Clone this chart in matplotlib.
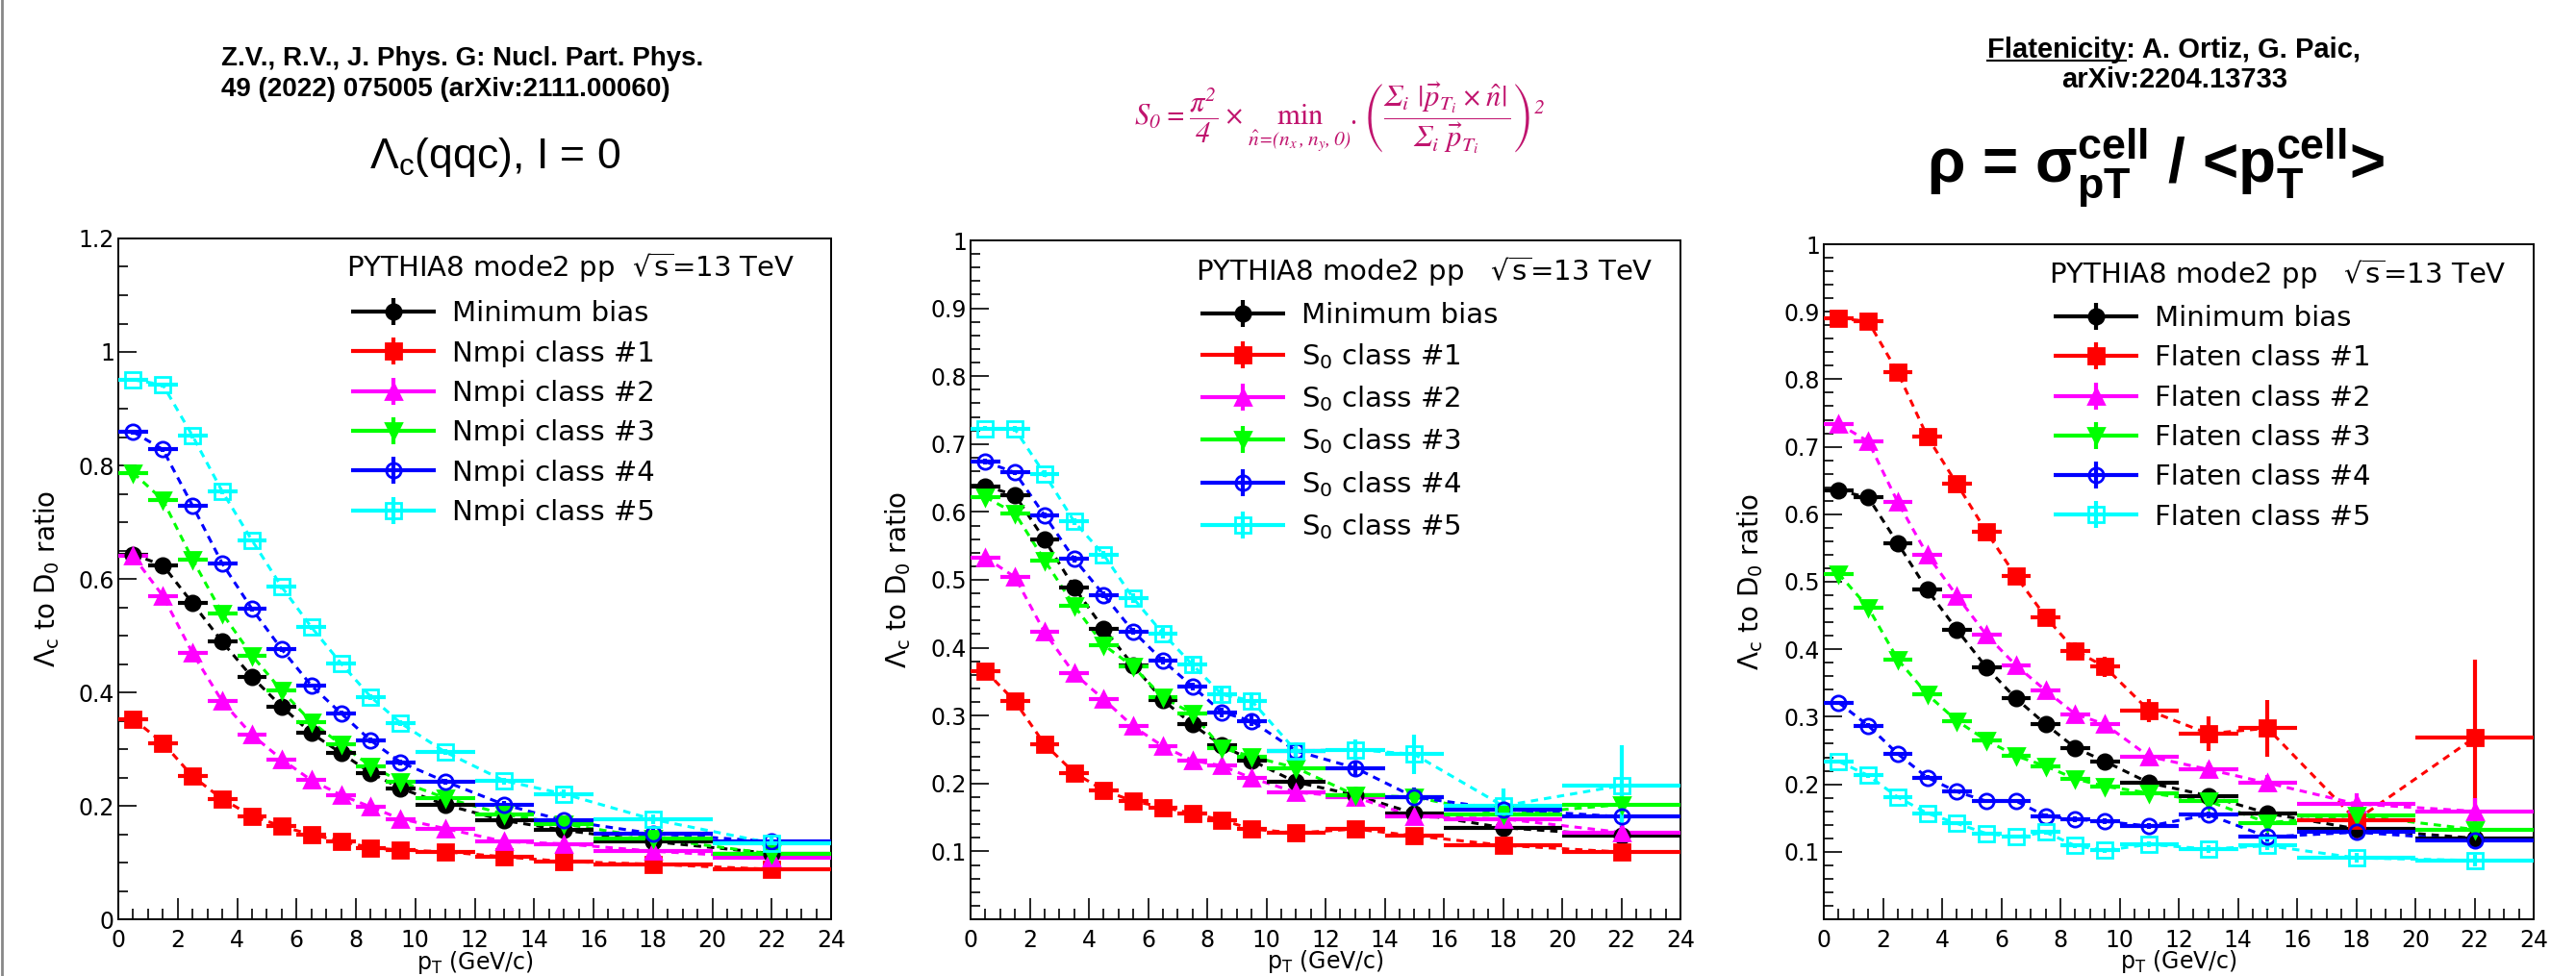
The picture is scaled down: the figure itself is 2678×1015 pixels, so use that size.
import numpy as np
import matplotlib.pyplot as plt
from matplotlib.ticker import MultipleLocator, FuncFormatter
from matplotlib.lines import Line2D
from matplotlib.container import ErrorbarContainer
from matplotlib.legend_handler import HandlerErrorbar

plt.rcParams["font.family"] = ["DejaVu Sans"]
plt.rcParams["mathtext.fontset"] = "dejavusans"
plt.rcParams["mathtext.default"] = "regular"
HEAD_FONT = ["Liberation Sans", "DejaVu Sans"]

# pT bins (GeV/c)
pt_edges = [0, 1, 2, 3, 4, 5, 6, 7, 8, 9, 10, 12, 14, 16, 20, 24]

# ---- Nmpi classes
nmpi_mb = [0.643, 0.624, 0.557, 0.489, 0.427, 0.375, 0.328, 0.293, 0.258, 0.231, 0.202, 0.174, 0.157, 0.137, 0.116]
nmpi_c1 = [0.353, 0.311, 0.252, 0.212, 0.182, 0.164, 0.149, 0.138, 0.126, 0.122, 0.119, 0.110, 0.102, 0.097, 0.088]
nmpi_c2 = [0.640, 0.570, 0.469, 0.384, 0.325, 0.282, 0.245, 0.219, 0.198, 0.177, 0.160, 0.137, 0.133, 0.120, 0.108]
nmpi_c3 = [0.787, 0.739, 0.634, 0.539, 0.465, 0.403, 0.348, 0.308, 0.270, 0.243, 0.214, 0.185, 0.168, 0.143, 0.115]
nmpi_c4 = [0.859, 0.828, 0.729, 0.627, 0.547, 0.476, 0.412, 0.363, 0.315, 0.277, 0.243, 0.202, 0.174, 0.151, 0.137]
nmpi_c5 = [0.951, 0.942, 0.852, 0.754, 0.668, 0.586, 0.515, 0.451, 0.392, 0.346, 0.295, 0.244, 0.221, 0.176, 0.134]
nmpi_err_mb = [0.003, 0.003, 0.003, 0.003, 0.003, 0.003, 0.003, 0.003, 0.003, 0.003, 0.003, 0.004, 0.005, 0.006, 0.008]
nmpi_err_cl = [0.004, 0.004, 0.004, 0.004, 0.004, 0.004, 0.004, 0.004, 0.005, 0.005, 0.005, 0.006, 0.007, 0.008, 0.010]

# ---- S0 classes
s0_mb = [0.638, 0.625, 0.559, 0.489, 0.428, 0.374, 0.323, 0.287, 0.256, 0.234, 0.202, 0.183, 0.156, 0.135, 0.123]
s0_c1 = [0.366, 0.321, 0.258, 0.216, 0.190, 0.174, 0.165, 0.156, 0.146, 0.133, 0.127, 0.133, 0.123, 0.109, 0.099]
s0_c2 = [0.533, 0.504, 0.423, 0.362, 0.324, 0.284, 0.255, 0.234, 0.226, 0.208, 0.187, 0.180, 0.151, 0.148, 0.128]
s0_c3 = [0.622, 0.598, 0.529, 0.462, 0.404, 0.372, 0.327, 0.303, 0.252, 0.240, 0.223, 0.183, 0.180, 0.154, 0.169]
s0_c4 = [0.674, 0.658, 0.595, 0.531, 0.478, 0.424, 0.381, 0.343, 0.305, 0.292, 0.248, 0.223, 0.180, 0.162, 0.151]
s0_c5 = [0.723, 0.722, 0.656, 0.586, 0.537, 0.473, 0.421, 0.375, 0.331, 0.322, 0.248, 0.250, 0.243, 0.167, 0.197]
s0_err_mb = [0.003, 0.003, 0.003, 0.003, 0.003, 0.003, 0.003, 0.003, 0.003, 0.003, 0.003, 0.004, 0.005, 0.006, 0.008]
s0_err_c1 = [0.004, 0.004, 0.004, 0.004, 0.004, 0.004, 0.004, 0.005, 0.005, 0.005, 0.005, 0.006, 0.007, 0.008, 0.010]
s0_err_c2 = [0.004, 0.004, 0.004, 0.004, 0.004, 0.005, 0.005, 0.005, 0.006, 0.006, 0.007, 0.008, 0.010, 0.010, 0.012]
s0_err_c3 = [0.004, 0.004, 0.004, 0.004, 0.005, 0.005, 0.005, 0.006, 0.006, 0.007, 0.008, 0.009, 0.012, 0.014, 0.025]
s0_err_c4 = [0.004, 0.004, 0.004, 0.005, 0.005, 0.005, 0.006, 0.006, 0.007, 0.008, 0.009, 0.010, 0.014, 0.016, 0.020]
s0_err_c5 = [0.004, 0.004, 0.005, 0.005, 0.006, 0.007, 0.008, 0.009, 0.010, 0.012, 0.010, 0.015, 0.029, 0.026, 0.059]

# ---- Flatenicity classes
fl_mb = [0.635, 0.625, 0.557, 0.488, 0.429, 0.373, 0.327, 0.289, 0.254, 0.234, 0.202, 0.183, 0.157, 0.134, 0.120]
fl_c1 = [0.890, 0.886, 0.810, 0.715, 0.645, 0.574, 0.508, 0.448, 0.398, 0.374, 0.309, 0.275, 0.283, 0.147, 0.269]
fl_c2 = [0.734, 0.708, 0.618, 0.540, 0.479, 0.421, 0.376, 0.339, 0.304, 0.289, 0.241, 0.222, 0.202, 0.171, 0.160]
fl_c3 = [0.512, 0.462, 0.385, 0.333, 0.294, 0.265, 0.242, 0.227, 0.208, 0.197, 0.187, 0.175, 0.143, 0.154, 0.133]
fl_c4 = [0.321, 0.287, 0.245, 0.210, 0.189, 0.175, 0.175, 0.153, 0.148, 0.145, 0.138, 0.155, 0.122, 0.129, 0.117]
fl_c5 = [0.234, 0.213, 0.181, 0.157, 0.142, 0.127, 0.122, 0.129, 0.109, 0.102, 0.111, 0.104, 0.109, 0.091, 0.087]
fl_err_mb = [0.003, 0.003, 0.003, 0.003, 0.003, 0.003, 0.003, 0.003, 0.003, 0.003, 0.003, 0.004, 0.005, 0.006, 0.008]
fl_err_c1 = [0.005, 0.005, 0.006, 0.006, 0.007, 0.008, 0.009, 0.010, 0.012, 0.015, 0.017, 0.025, 0.042, 0.030, 0.115]
fl_err_c2 = [0.004, 0.004, 0.004, 0.005, 0.005, 0.005, 0.006, 0.006, 0.007, 0.008, 0.008, 0.010, 0.012, 0.015, 0.020]
fl_err_c3 = [0.003, 0.003, 0.003, 0.003, 0.003, 0.003, 0.003, 0.003, 0.004, 0.004, 0.004, 0.005, 0.006, 0.007, 0.009]
fl_err_c4 = [0.003, 0.003, 0.003, 0.003, 0.003, 0.003, 0.003, 0.003, 0.004, 0.004, 0.004, 0.005, 0.006, 0.007, 0.009]
fl_err_c5 = [0.003, 0.003, 0.003, 0.003, 0.003, 0.003, 0.003, 0.003, 0.004, 0.004, 0.004, 0.005, 0.006, 0.007, 0.009]

colors = ["black", "red", "magenta", "#00ff00", "blue", "cyan"]
markers = ["o", "s", "^", "v", "o", "s"]
filled = [True, True, True, True, False, False]

edges = np.array(pt_edges, dtype=float)
xc = 0.5 * (edges[1:] + edges[:-1])
xw = 0.5 * (edges[1:] - edges[:-1])

W, H = 2678, 1015
fig = plt.figure(figsize=(W / 100, H / 100), dpi=100)

# panel boxes in pixels (left, right, bottom, top)
boxes = [(123, 864, 956, 248), (1009, 1747, 956, 250), (1896, 2634, 956, 254)]
axes = []
for l, r, b, t in boxes:
    axes.append(fig.add_axes([l / W, (H - b) / H, (r - l) / W, (b - t) / H]))

panels = [
    ([nmpi_mb, nmpi_c1, nmpi_c2, nmpi_c3, nmpi_c4, nmpi_c5],
     [nmpi_err_mb, nmpi_err_cl, nmpi_err_cl, nmpi_err_cl, nmpi_err_cl, nmpi_err_cl],
     ["Minimum bias", "Nmpi class #1", "Nmpi class #2", "Nmpi class #3", "Nmpi class #4", "Nmpi class #5"],
     r"PYTHIA8 mode2 pp  $\sqrt{s}$=13 TeV", 1.2),
    ([s0_mb, s0_c1, s0_c2, s0_c3, s0_c4, s0_c5],
     [s0_err_mb, s0_err_c1, s0_err_c2, s0_err_c3, s0_err_c4, s0_err_c5],
     ["Minimum bias"] + ["S$_0$ class #%d" % i for i in range(1, 6)],
     r"PYTHIA8 mode2 pp   $\sqrt{s}$=13 TeV", 1.0),
    ([fl_mb, fl_c1, fl_c2, fl_c3, fl_c4, fl_c5],
     [fl_err_mb, fl_err_c1, fl_err_c2, fl_err_c3, fl_err_c4, fl_err_c5],
     ["Minimum bias"] + ["Flaten class #%d" % i for i in range(1, 6)],
     r"PYTHIA8 mode2 pp   $\sqrt{s}$=13 TeV", 1.0),
]
head_pos = [(0.320, 0.958), (0.317, 0.955), (0.317, 0.956)]
leg_pos = [(0.327, 0.909), (0.324, 0.909), (0.324, 0.910)]
ylab_x = [-0.100, -0.102, -0.103]

for k, (ax, (series, errs, labels, head, ymax)) in enumerate(zip(axes, panels)):
    handles = []
    for y, ye, c, m, f, lab in zip(series, errs, colors, markers, filled, labels):
        ax.plot(xc, y, color=c, lw=2.2, ls=(0, (2.5, 2)), zorder=2)
        h = ax.errorbar(xc, y, xerr=xw, yerr=ye, fmt=m, color=c, ecolor=c,
                        mfc=c if f else "none", mec=c, ms=11, mew=2,
                        elinewidth=3, capsize=0, zorder=3, label=lab)
        handles.append(h)

    ax.set_xlim(0, 24)
    ax.set_ylim(0, ymax)
    ax.xaxis.set_major_locator(MultipleLocator(2))
    ax.xaxis.set_minor_locator(MultipleLocator(0.5))
    if ymax > 1.1:
        ax.yaxis.set_major_locator(MultipleLocator(0.2))
        ax.yaxis.set_minor_locator(MultipleLocator(0.05))
        ax.yaxis.set_major_formatter(FuncFormatter(lambda v, p: "%g" % round(v, 3)))
    else:
        ax.yaxis.set_major_locator(MultipleLocator(0.1))
        ax.yaxis.set_minor_locator(MultipleLocator(0.02))
        ax.yaxis.set_major_formatter(FuncFormatter(lambda v, p: "" if abs(v) < 1e-9 else "%g" % round(v, 3)))
    ax.xaxis.set_major_formatter(FuncFormatter(lambda v, p: "%g" % v))

    ax.tick_params(which="both", direction="in", top=False, right=False, labelsize=17, width=1.2)
    ax.tick_params(axis="x", which="major", length=16, pad=7)
    ax.tick_params(axis="x", which="minor", length=8)
    ax.tick_params(axis="y", which="major", length=14, pad=3)
    ax.tick_params(axis="y", which="minor", length=7)
    for s in ax.spines.values():
        s.set_linewidth(1.4)

    ax.set_ylabel(r"$\Lambda_{c}$ to D$_{0}$ ratio", fontsize=20, va="center")
    ax.yaxis.set_label_coords(ylab_x[k], 0.5)
    ax.set_xlabel(r"p$_{T}$ (GeV/c)", fontsize=17, va="center")
    ax.xaxis.set_label_coords(0.5, -0.063)

    ax.text(head_pos[k][0], head_pos[k][1], head, transform=ax.transAxes,
            fontsize=21, ha="left", va="center")
    ax.legend(handles, labels, loc="upper left", bbox_to_anchor=leg_pos[k],
              frameon=False, fontsize=21, handlelength=3.0, handletextpad=0.6,
              labelspacing=0.455, borderpad=0, borderaxespad=0,
              handler_map={ErrorbarContainer: HandlerErrorbar(xerr_size=1.5, yerr_size=0.48)})

# ---- headers above the panels
fig.text(230 / W, 1 - 68 / H, "Z.V., R.V., J. Phys. G: Nucl. Part. Phys.",
         family=HEAD_FONT, fontsize=20, fontweight="bold", ha="left", va="baseline")
fig.text(230 / W, 1 - 100 / H, "49 (2022) 075005 (arXiv:2111.00060)",
         family=HEAD_FONT, fontsize=20, fontweight="bold", ha="left", va="baseline")
fig.text(0.192, 1 - 175 / H, r"$\Lambda_{c}$(qqc), I = 0",
         family=HEAD_FONT, fontsize=32, ha="center", va="baseline")

fig.text(0.520, 0.879,
         r"$S_0 = \dfrac{\pi^2}{4} \times \min_{\hat{n}=(n_x,n_y,0)}.\left(\dfrac{\Sigma_i\ |\vec{p}_{T_i}\times\hat{n}|}{\Sigma_i\ \vec{p}_{T_i}}\right)^2$",
         family="STIXGeneral", style="italic", fontsize=22, color="#c0146e",
         ha="center", va="center", math_fontfamily="stix")

t_fl = fig.text(0.844, 1 - 60 / H, "Flatenicity: A. Ortiz, G. Paic,",
                family=HEAD_FONT, fontsize=21, fontweight="bold", ha="center", va="baseline")
fig.text(0.844, 1 - 91 / H, "arXiv:2204.13733",
         family=HEAD_FONT, fontsize=21, fontweight="bold", ha="center", va="baseline")
fig.text(0.837, 1 - 190 / H, r"ρ = σ$_{pT}^{cell}$ / <p$_{T}^{cell}$>",
         family=HEAD_FONT, fontsize=46, fontweight="bold", ha="center", va="baseline")

# underline "Flatenicity"
fig.canvas.draw()
rend = fig.canvas.get_renderer()
bb = t_fl.get_window_extent(rend)
tmp = fig.text(0, 0, "Flatenicity", family=HEAD_FONT, fontsize=21, fontweight="bold")
w_fl = tmp.get_window_extent(rend).width
tmp.remove()
y_ul = 1 - 63 / H
fig.add_artist(Line2D([bb.x0 / W, (bb.x0 + w_fl) / W], [y_ul, y_ul],
                      transform=fig.transFigure, color="black", lw=1.5))

# thin grey border at the left edge
fig.add_artist(Line2D([0.0008, 0.0008], [0, 1], transform=fig.transFigure, color="#888888", lw=2))

fig.savefig("out.png", dpi=100, facecolor="w")
